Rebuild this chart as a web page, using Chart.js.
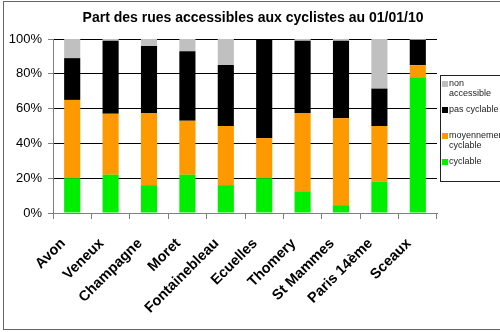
<!DOCTYPE html>
<html>
<head>
<meta charset="utf-8">
<script src="https://cdn.jsdelivr.net/npm/chart.js@4"></script>
<style>
  html, body { margin: 0; padding: 0; background: #fff; }
  #wrap { width: 500px; height: 332px; }
</style>
</head>
<body>
<div id="wrap"><canvas id="rues"></canvas></div>
<script>
// communes
const communes = ['Avon', 'Veneux', 'Champagne', 'Moret', 'Fontainebleau', 'Ecuelles', 'Thomery', 'St Mammes', 'Paris 14ème', 'Sceaux'];

// parts en % (empilées de bas en haut)
const cyclable      = [20, 22, 16,   22, 16, 20, 12.5, 4.5,  18,   78];
const moyennement   = [45, 35, 41.5, 31, 34, 23, 45,   50,   32,   7];
const pasCyclable   = [24, 42, 38.5, 40, 35, 57, 41.5, 44.5, 21.5, 14.5];
const nonAccessible = [11, 1,  4,    7,  15, 0,  1,    1,    28.5, 0.5];

const yTicks = [0, 20, 40, 60, 80, 100];

const titre = 'Part des rues accessibles aux cyclistes au 01/01/10';

// cadre, titre et légende dessinés à la main (style Excel)
const habillage = {
    id: 'habillage',
    afterDraw(chart) {
        const ctx = chart.ctx;
        ctx.save();

        // cadre du graphique
        ctx.strokeStyle = '#666';
        ctx.lineWidth = 1;
        ctx.strokeRect(3.5, 1.5, 520, 328);

        // titre
        ctx.fillStyle = '#000';
        ctx.font = 'bold 14px Arial, "Liberation Sans", sans-serif';
        ctx.textAlign = 'center';
        ctx.textBaseline = 'middle';
        ctx.fillText(titre, 253, 18);

        // légende (ordre inverse de l'empilement)
        ctx.strokeStyle = '#222';
        ctx.strokeRect(440.5, 75.5, 70, 106);
        ctx.font = '9px Arial, "Liberation Sans", sans-serif';
        ctx.textAlign = 'left';
        const ds = chart.data.datasets.slice().reverse();
        ds.forEach(function (d, i) {
            const y = 84 + i * 26;
            ctx.fillStyle = d.backgroundColor;
            ctx.fillRect(442, y - 3, 6, 6);
            // retour à la ligne si le libellé est trop long
            const words = d.label.split(' ');
            let lines = [], line = '';
            words.forEach(function (w) {
                const test = line ? line + ' ' + w : w;
                if (line && ctx.measureText(test).width > 50) {
                    lines.push(line);
                    line = w;
                } else {
                    line = test;
                }
            });
            lines.push(line);
            ctx.fillStyle = '#222';
            lines.forEach(function (l, j) {
                ctx.fillText(l, 449, y + j * 9.5);
            });
        });
        ctx.restore();
    }
};

const ctx = document.getElementById('rues').getContext('2d');
new Chart(ctx, {
    type: 'bar',
    data: {
        labels: communes,
        datasets: [
            { label: 'cyclable', data: cyclable, backgroundColor: '#00ee00' },
            { label: 'moyennement cyclable', data: moyennement, backgroundColor: '#ff9900' },
            { label: 'pas cyclable', data: pasCyclable, backgroundColor: '#000000' },
            { label: 'non accessible', data: nonAccessible, backgroundColor: '#c0c0c0' }
        ]
    },
    options: {
        responsive: true,
        maintainAspectRatio: false,
        animation: false,
        layout: { padding: { top: 39, left: 4, right: 63, bottom: 2 } },
        datasets: { bar: { categoryPercentage: 1, barPercentage: 0.42 } },
        plugins: {
            legend: { display: false },
            title: { display: false },
            tooltip: { enabled: false }
        },
        scales: {
            x: {
                stacked: true,
                afterFit: function (scale) { scale.height = 117; },
                border: { color: '#808080', width: 1 },
                grid: {
                    offset: true,
                    drawOnChartArea: false,
                    tickLength: 6,
                    tickColor: '#808080'
                },
                ticks: {
                    autoSkip: false,
                    minRotation: 45,
                    maxRotation: 45,
                    padding: 16,
                    labelOffset: -9,
                    color: '#000',
                    font: { family: 'Arial, "Liberation Sans", sans-serif', size: 14.5, weight: 'bold' }
                }
            },
            y: {
                stacked: true,
                min: 0,
                max: 100,
                afterFit: function (scale) { scale.width = 49; },
                afterBuildTicks: function (scale) {
                    scale.ticks = yTicks.map(function (v) { return { value: v }; });
                },
                border: { color: '#808080', width: 1 },
                grid: {
                    color: '#000',
                    borderDash: [2, 2],
                    tickLength: 5,
                    tickColor: '#808080',
                    tickBorderDash: []
                },
                ticks: {
                    padding: 6,
                    color: '#000',
                    font: { family: 'Arial, "Liberation Sans", sans-serif', size: 13 },
                    callback: function (v) { return v + '%'; }
                }
            }
        }
    },
    plugins: [habillage]
});
</script>
</body>
</html>
